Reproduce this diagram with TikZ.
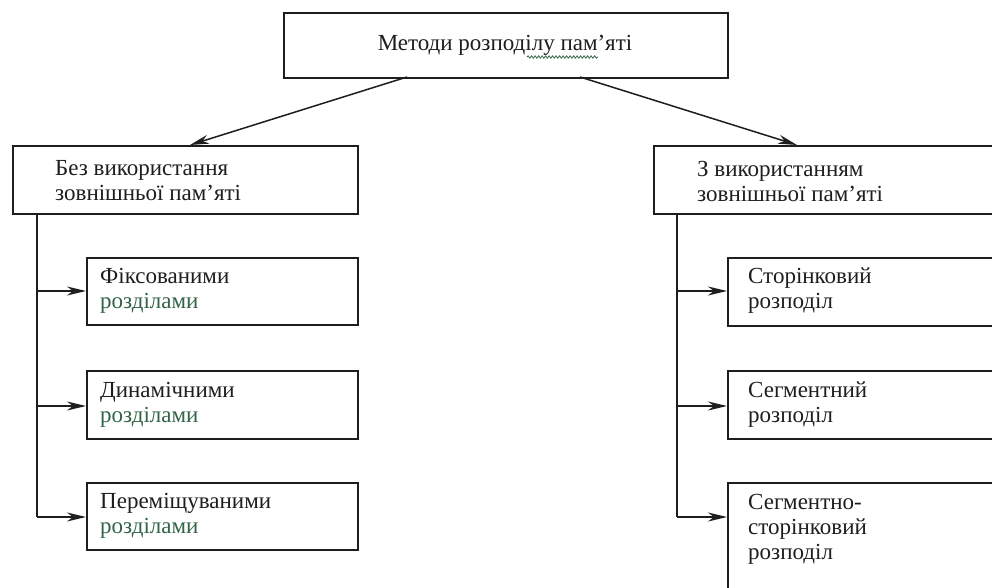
\documentclass[tikz,border=0pt]{standalone}
\usepackage{fontspec}
\setmainfont{Liberation Serif}
\usetikzlibrary{arrows.meta,decorations.pathmorphing}
\definecolor{ink}{RGB}{30,30,30}
\definecolor{grn}{RGB}{50,100,70}
\tikzset{
  box/.style={draw=ink, line width=1.6bp, rectangle, inner sep=0pt, anchor=north west},
  txt/.style={text=ink, inner sep=0pt, anchor=west, align=left, font=\fontsize{23bp}{25bp}\selectfont},
  conn/.style={draw=ink, line width=1.5bp, -{Stealth[length=19bp,width=9bp,inset=6bp]}},
  trunk/.style={draw=ink, line width=1.5bp}
}
\begin{document}
\begin{tikzpicture}[x=1bp,y=-1bp]
\useasboundingbox (0,0) rectangle (992,588);
\clip (0,0) rectangle (992,588);
\fill[white] (0,0) rectangle (992,588);
% top
\node[box, minimum width=444bp, minimum height=65bp] (top) at (283,12) {};
\node[txt, anchor=base] (toptxt) at (505,51) {Методи розподілу пам'яті};
\draw[grn, line width=0.8bp, decorate, decoration={snake, amplitude=1.2bp, segment length=3.5bp}] (527,57) -- (598,57);
% level 2
\node[box, minimum width=345bp, minimum height=68bp] (L) at (12,145) {};
\node[txt] (Lt) at (55,181) {Без використання\\зовнішньої пам'яті};
\node[box, minimum width=360bp, minimum height=68bp] (R) at (653,145) {};
\node[txt] (Rt) at (697,181) {З використанням\\зовнішньої пам'яті};
\coordinate (tl) at (407,77);
\coordinate (tr) at (580,77);
\coordinate (Lin) at (190,145);
\coordinate (Rin) at (797,145);
\draw[conn] (tl) -- (Lin);
\draw[conn] (tr) -- (Rin);
% left children
\node[box, minimum width=271bp, minimum height=67bp] (L1) at (86,257) {};
\node[txt] (L1t) at (100,291) {Фіксованими\\\textcolor{grn}{розділами}};
\node[box, minimum width=271bp, minimum height=68bp] (L2) at (86,370) {};
\node[txt] (L2t) at (100,404.5) {Динамічними\\\textcolor{grn}{розділами}};
\node[box, minimum width=271bp, minimum height=67bp] (L3) at (86,482) {};
\node[txt] (L3t) at (100,516) {Переміщуваними\\\textcolor{grn}{розділами}};
\coordinate (Lv0) at (37,213);
\coordinate (Lv1) at (37,291);
\coordinate (Lv2) at (37,406);
\coordinate (Lv3) at (37,517);
\draw[trunk] (Lv0) -- (Lv3);
\draw[conn] (Lv1) -- (L1.west |- Lv1);
\draw[conn] (Lv2) -- (L2.west |- Lv2);
\draw[conn] (Lv3) -- (L3.west |- Lv3);
% right children
\node[box, minimum width=300bp, minimum height=68bp] (R1) at (727,257) {};
\node[txt] (R1t) at (748,291) {Сторінковий\\розподіл};
\node[box, minimum width=300bp, minimum height=68bp] (R2) at (727,370) {};
\node[txt] (R2t) at (748,404.5) {Сегментний\\розподіл};
\node[box, minimum width=300bp, minimum height=130bp] (R3) at (727,482) {};
\node[txt] (R3t) at (748,529) {Сегментно-\\сторінковий\\розподіл};
\coordinate (Rv0) at (677,213);
\coordinate (Rv1) at (677,291);
\coordinate (Rv2) at (677,406);
\coordinate (Rv3) at (677,517);
\draw[trunk] (Rv0) -- (Rv3);
\draw[conn] (Rv1) -- (R1.west |- Rv1);
\draw[conn] (Rv2) -- (R2.west |- Rv2);
\draw[conn] (Rv3) -- (R3.west |- Rv3);
\end{tikzpicture}
\end{document}
